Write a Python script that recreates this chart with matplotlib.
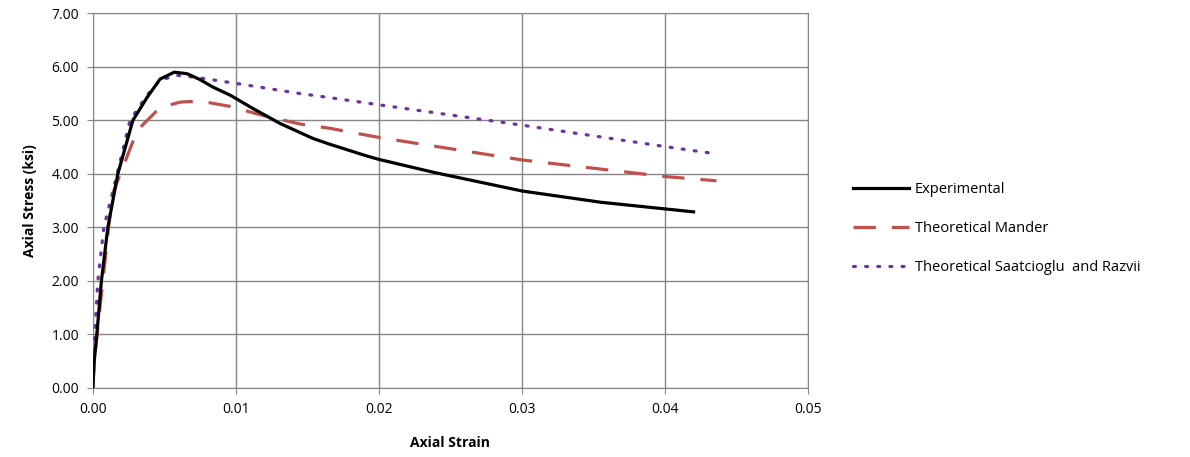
import matplotlib.pyplot as plt

# Experimental curve
exp_strain = [0.0, 0.0001, 0.00028, 0.0006, 0.00105, 0.0014, 0.00175, 0.0028, 0.0038,
              0.0047, 0.0057, 0.0066, 0.0075, 0.0084, 0.0096, 0.0112, 0.0131, 0.0154, 0.0166,
              0.0192, 0.0200, 0.0238, 0.0300, 0.0355, 0.0420]
exp_stress = [0.0, 0.5, 1.0, 2.0, 3.0, 3.5, 4.0, 5.0, 5.43,
              5.77, 5.90, 5.87, 5.76, 5.62, 5.47, 5.22, 4.94, 4.66, 4.55,
              4.33, 4.27, 4.03, 3.68, 3.47, 3.29]

# Theoretical Mander
man_strain = [0.0, 0.0001, 0.0003, 0.0007, 0.0011, 0.0014, 0.0021, 0.0031, 0.0047,
              0.0061, 0.0075, 0.0096, 0.0119, 0.0145, 0.0166, 0.0200, 0.0300, 0.0400, 0.0436]
man_stress = [0.0, 0.5, 1.0, 2.0, 3.0, 3.64, 4.12, 4.81, 5.24,
              5.34, 5.36, 5.26, 5.09, 4.93, 4.85, 4.68, 4.26, 3.95, 3.87]

# Theoretical Saatcioglu and Razvi
sr_strain = [0.0, 0.00014, 0.00035, 0.00077, 0.0017, 0.0026, 0.0038, 0.0047, 0.0059,
             0.0073, 0.0100, 0.0145, 0.0164, 0.0200, 0.0300, 0.0400, 0.0434]
sr_stress = [0.0, 1.0, 2.0, 3.0, 4.0, 5.0, 5.47, 5.75, 5.84,
             5.80, 5.69, 5.50, 5.43, 5.29, 4.91, 4.51, 4.38]

x_ticks = [0.0, 0.01, 0.02, 0.03, 0.04, 0.05]
y_ticks = [0, 1, 2, 3, 4, 5, 6, 7]

plt.rcParams['font.family'] = ['Open Sans', 'DejaVu Sans']

fig = plt.figure(figsize=(11.9, 4.57), dpi=100)
ax = fig.add_axes([0.078, 0.151, 0.601, 0.820])

ax.plot(exp_strain, exp_stress, color='black', lw=2.3, label='Experimental', zorder=4)
ax.plot(man_strain, man_stress, color='#C0504D', lw=2.3, dashes=(7, 5),
        label='Theoretical Mander', zorder=3)
ax.plot(sr_strain, sr_stress, color='#7030A0', lw=2.3, dashes=(0.6, 3.2),
        dash_capstyle='round', label='Theoretical Saatcioglu  and Razvii', zorder=3)

ax.set_xlim(0, 0.05)
ax.set_ylim(0, 7)
ax.set_xticks(x_ticks)
ax.set_xticklabels([f'{v:.2f}' for v in x_ticks])
ax.set_yticks(y_ticks)
ax.set_yticklabels([f'{v:.2f}' for v in y_ticks])
ax.tick_params(direction='out', length=4, color='#868686', labelsize=10, pad=6)
ax.grid(True, color='#868686', lw=1)
ax.set_axisbelow(True)
for s in ax.spines.values():
    s.set_color('#868686')

ax.set_xlabel('Axial Strain', fontsize=10, fontweight='bold', labelpad=14)
ax.set_ylabel('Axial Stress (ksi)', fontsize=10, fontweight='bold', labelpad=10)

ax.legend(loc='upper left', bbox_to_anchor=(1.045, 0.585), frameon=False, fontsize=10.5,
          handlelength=3.8, handletextpad=0.4, labelspacing=1.65)

fig.savefig('out.png', dpi=100)
